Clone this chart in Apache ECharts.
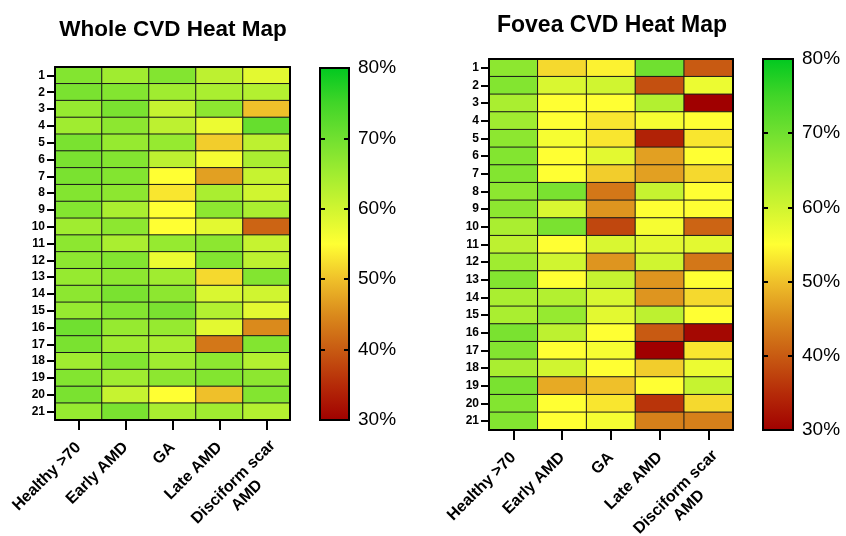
<!DOCTYPE html>
<html><head><meta charset="utf-8">
<script src="https://cdn.jsdelivr.net/npm/echarts@6/dist/echarts.min.js"></script>
<style>html,body{margin:0;padding:0;background:#fff}#c{width:846px;height:536px}</style>
</head><body><div id="c"></div><script>
const groups = ['Healthy >70','Early AMD','GA','Late AMD','Disciform scar\nAMD'];
const rows = ['1','2','3','4','5','6','7','8','9','10','11','12','13','14','15','16','17','18','19','20','21'];
// Whole CVD (%), rows 1..21, columns = groups
const wholeCVD = [
  [68,65,68,62,58],[69,68,65,64,63],[66,69,61,67,50],[65,67,62,57,71],[69,66,66,51,62],
  [69,68,62,56,64],[69,68,55,47,61],[68,67,53,64,60],[68,64,55,67,64],[65,67,55,58,41],
  [67,64,66,67,61],[67,68,57,68,62],[66,67,65,52,68],[67,69,67,59,60],[66,68,69,63,58],
  [70,66,66,58,45],[69,65,64,43,68],[65,68,65,67,63],[68,65,67,68,67],[69,61,55,50,68],
  [66,69,64,65,63]
];
// Fovea CVD (%)
const foveaCVD = [
  [67,52,54,70,40],[68,59,60,39,57],[64,55,55,63,30],[65,55,53,56,55],[67,56,53,34,53],
  [68,55,58,47,55],[68,55,51,47,52],[67,69,43,61,55],[67,59,46,55,55],[64,69,38,56,41],
  [62,55,59,58,58],[65,60,46,60,43],[68,55,61,46,55],[64,63,59,46,52],[64,66,58,62,55],
  [69,62,55,40,31],[68,55,56,30,53],[64,60,55,51,57],[69,48,50,55,61],[68,55,53,36,52],
  [68,55,56,44,44]
];
const scaleTicks = [30,40,50,60,70,80];
const scaleColors = ['#a00000','#b52a08','#c85a12','#da8a1c','#efc02a','#ffff33','#d0f530','#a0ec30','#70e030','#40d528','#00c820'];

const FF = '"Liberation Sans", Arial, sans-serif';
function toData(m){const d=[];m.forEach((r,ri)=>r.forEach((v,ci)=>d.push([ci,ri,v])));return d;}
const grad = {type:'linear',x:0,y:0,x2:0,y2:1,colorStops:scaleColors.slice().reverse().map((c,i,a)=>({offset:i/(a.length-1),color:c}))};
const catData = groups.map((g,i)=> i===groups.length-1 ? {value:g, textStyle:{padding:[25,-6,0,0]}} : g);

const grids = [
  {left:55, top:67, width:235, height:353, outerBoundsMode:'none', containLabel:false},
  {left:489, top:59, width:244, height:371, outerBoundsMode:'none', containLabel:false},
  {left:320, top:68, width:29, height:352, show:true, borderColor:'#000', borderWidth:2, backgroundColor:grad, outerBoundsMode:'none', containLabel:false},
  {left:763, top:59, width:30, height:371, show:true, borderColor:'#000', borderWidth:2, backgroundColor:grad, outerBoundsMode:'none', containLabel:false}
];
const xAxes=[], yAxes=[];
[0,1].forEach(g=>{
  xAxes.push({type:'category', gridIndex:g, data:catData, position:'bottom', z:10,
    axisLine:{show:true,lineStyle:{color:'#000',width:2}},
    axisTick:{show:true,inside:false,alignWithLabel:true,length:10,lineStyle:{color:'#000',width:2}},
    axisLabel:{show:true, interval:0, rotate:45, margin:25, color:'#000',
      formatter:v=>v.split('\n').map(s=>'{c|'+s+'}').join('\n'),
      rich:{c:{align:'center',fontSize:16,fontWeight:'bold',fontFamily:FF,color:'#000',lineHeight:19}}},
    splitLine:{show:false}});
  xAxes.push({type:'category', gridIndex:g, data:groups, position:'top', z:10,
    axisLine:{show:true,lineStyle:{color:'#000',width:2}}, axisTick:{show:false}, axisLabel:{show:false}});
  yAxes.push({type:'category', gridIndex:g, data:rows, inverse:true, position:'left', z:10,
    axisLine:{show:true,lineStyle:{color:'#000',width:2}},
    axisTick:{show:true,inside:false,alignWithLabel:true,length:8,lineStyle:{color:'#000',width:2}},
    axisLabel:{show:true, interval:0, margin:10, fontSize:12, fontWeight:'bold', fontFamily:FF, color:'#000'}});
  yAxes.push({type:'category', gridIndex:g, data:rows, inverse:true, position:'right', z:10,
    axisLine:{show:true,lineStyle:{color:'#000',width:2}}, axisTick:{show:false}, axisLabel:{show:false}});
});
[2,3].forEach(g=>{
  xAxes.push({type:'value', gridIndex:g, min:0, max:1, show:false});
  yAxes.push({type:'value', gridIndex:g, min:scaleTicks[0], max:scaleTicks[scaleTicks.length-1], interval:10, position:'right', z:20,
    axisLine:{show:false, onZero:false}, splitLine:{show:false},
    axisTick:{show:true, inside:true, length:5, lineStyle:{color:'#000',width:2}},
    axisLabel:{show:true, formatter:'{value}%', fontSize:19, fontFamily:FF, color:'#000', margin:9}});
  yAxes.push({type:'value', gridIndex:g, min:30, max:80, interval:10, position:'left', z:20,
    axisLine:{show:false, onZero:false}, splitLine:{show:false}, axisLabel:{show:false},
    axisTick:{show:true, inside:true, length:5, lineStyle:{color:'#000',width:2}}});
});
const chart = echarts.init(document.getElementById('c'));
chart.setOption({
  animation:false,
  title:[
    {text:'Whole CVD Heat Map', left:168, top:13, textAlign:'center', textStyle:{fontSize:22.5,fontWeight:'bold',fontFamily:FF,color:'#000'}},
    {text:'Fovea CVD Heat Map', left:607, top:9, textAlign:'center', textStyle:{fontSize:23,fontWeight:'bold',fontFamily:FF,color:'#000'}}
  ],
  grid:grids, xAxis:xAxes, yAxis:yAxes,
  visualMap:{type:'continuous', show:false, min:30, max:80, seriesIndex:[0,1], inRange:{color:scaleColors}},
  series:[
    {type:'heatmap', xAxisIndex:0, yAxisIndex:0, data:toData(wholeCVD), itemStyle:{borderColor:'#1a1a1a',borderWidth:1}},
    {type:'heatmap', xAxisIndex:2, yAxisIndex:2, data:toData(foveaCVD), itemStyle:{borderColor:'#1a1a1a',borderWidth:1}},
    {type:'line', xAxisIndex:4, yAxisIndex:4, data:[], silent:true},
    {type:'line', xAxisIndex:5, yAxisIndex:6, data:[], silent:true}
  ]
});
</script></body></html>
